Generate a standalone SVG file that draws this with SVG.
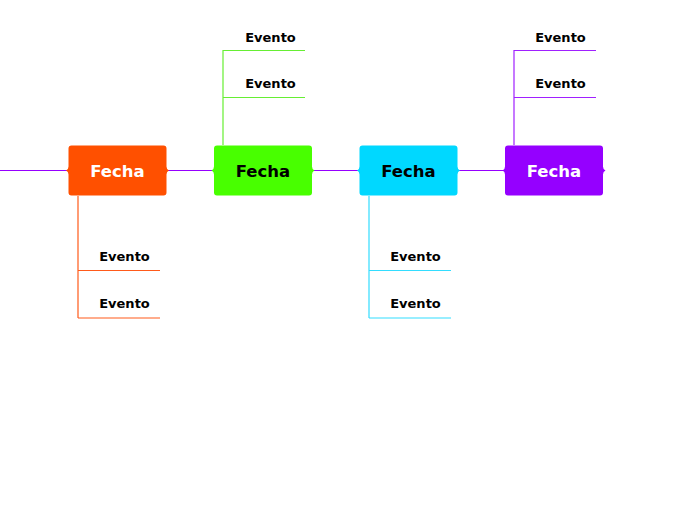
<svg xmlns="http://www.w3.org/2000/svg" width="696" height="520" viewBox="0 0 696 520">
<defs>
<style>
.node{stroke:none}
.ft{font-family:"DejaVu Sans",Verdana,sans-serif;font-weight:bold;font-size:16.5px;text-anchor:middle}
.ev{font-family:"DejaVu Sans",Verdana,sans-serif;font-weight:bold;font-size:13px;text-anchor:middle;fill:#000}
.c{fill:none;stroke-width:1.2}
</style>
<path id="shape" d="M3,0 H95 Q98,0 98,3 V21 Q98,24 100.5,25 Q98,26 98,29 V47 Q98,50 95,50 H3 Q0,50 0,47 V29 Q0,26 -2.5,25 Q0,24 0,21 V3 Q0,0 3,0 Z"/>
</defs>
<rect width="696" height="520" fill="#fff"/>
<g id="connectors">
<path class="c" stroke="#9600ff" d="M0,170.5 H68 M167,170.5 H214 M312,170.5 H359 M457,170.5 H505"/>
<path class="c" stroke="#ff5a1a" d="M78,196 V318 M78,270.5 H160 M78,318 H160"/>
<path class="c" stroke="#66ee33" d="M223,145 V50.5 H305 M223,97.5 H305"/>
<path class="c" stroke="#33ddff" d="M369,196 V318 M369,270.5 H451 M369,318 H451"/>
<path class="c" stroke="#a020ff" d="M514,145 V50.5 H596 M514,97.5 H596"/>
</g>
<g id="node1" transform="translate(68.5,145.5)"><use href="#shape" fill="#ff5000"/><text class="ft" x="49" y="31.5" fill="#fff">Fecha</text></g>
<g id="node2" transform="translate(214,145.5)"><use href="#shape" fill="#48ff00"/><text class="ft" x="49" y="31.5" fill="#000">Fecha</text></g>
<g id="node3" transform="translate(359.5,145.5)"><use href="#shape" fill="#00d8ff"/><text class="ft" x="49" y="31.5" fill="#000">Fecha</text></g>
<g id="node4" transform="translate(505,145.5)"><use href="#shape" fill="#9500ff"/><text class="ft" x="49" y="31.5" fill="#fff">Fecha</text></g>
<g id="ev1a"><text class="ev" x="124.5" y="261">Evento</text></g>
<g id="ev1b"><text class="ev" x="124.5" y="308">Evento</text></g>
<g id="ev2a"><text class="ev" x="270.5" y="42">Evento</text></g>
<g id="ev2b"><text class="ev" x="270.5" y="88">Evento</text></g>
<g id="ev3a"><text class="ev" x="415.5" y="261">Evento</text></g>
<g id="ev3b"><text class="ev" x="415.5" y="308">Evento</text></g>
<g id="ev4a"><text class="ev" x="560.5" y="42">Evento</text></g>
<g id="ev4b"><text class="ev" x="560.5" y="88">Evento</text></g>
</svg>
